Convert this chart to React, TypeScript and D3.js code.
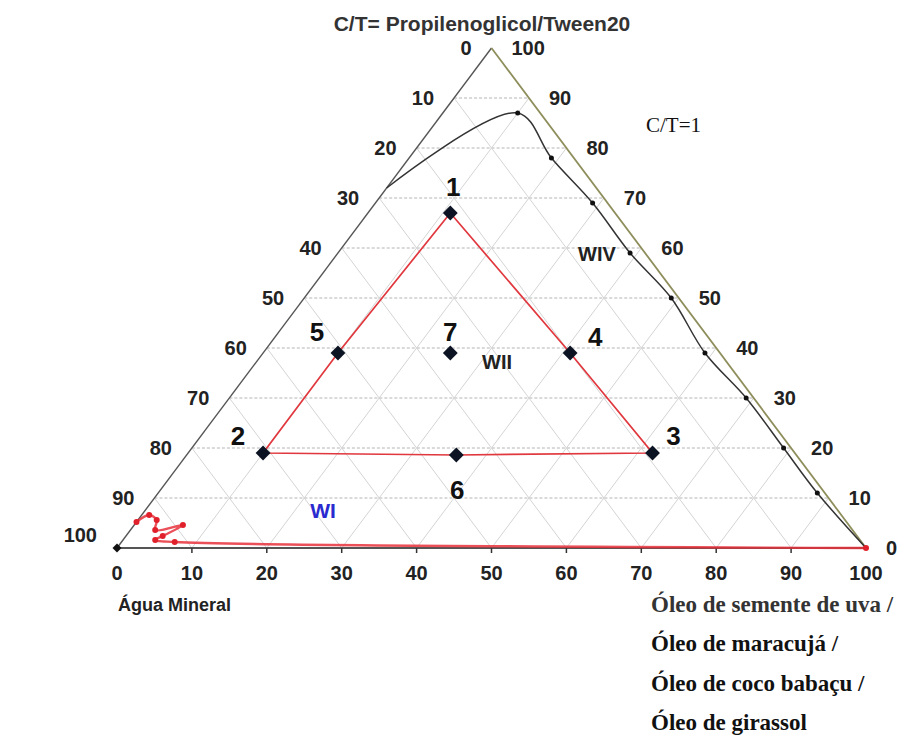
import React from 'react'
import * as d3 from 'd3'

// formulations (oil %, C/T %), water is the rest
const formLabels = ['1', '2', '3', '4', '5', '6', '7']
const formOil = [11, 10, 62, 41, 10, 36, 25]
const formCT = [67, 19, 19, 39, 39, 18.6, 39]
// order of the red outline through the formulations
const outlineOrder = [0, 3, 2, 5, 1, 4, 0]

// phase boundary of the C/T=1 titration (black curve)
const boundaryOil = [0, 10, 19, 29, 39, 49, 59, 69, 79, 88, 100]
const boundaryCT = [72, 87, 78, 69, 59, 50, 39, 30, 20, 11, 0]

// red curve near the water corner (WI region)
const wiOil = [0, 1, 2.5, 3.3, 6.5, 4.9, 4.3, 7.1, 100]
const wiCT = [5.2, 6.6, 5.6, 3.6, 4.6, 2.4, 1.6, 1.2, 0]

const tickValues = [0, 10, 20, 30, 40, 50, 60, 70, 80, 90, 100]
const gridSteps = [10, 20, 30, 40, 50, 60, 70, 80, 90]

const oilNames = [
  'Óleo de semente de uva /',
  'Óleo de maracujá /',
  'Óleo de coco babaçu /',
  'Óleo de girassol',
]

// label offsets for the numbered points (layout only)
const labelDx = [3, -25, 21, 25, -21, 1, 0]
const labelDy = [-26, -17, -17, -16, -21, 35, -21]

const sans = '"Liberation Sans", Arial, sans-serif'
const serif = '"Liberation Serif", "Times New Roman", serif'

export default function App() {
  const width = 916
  const height = 740

  const x = d3.scaleLinear().domain([0, 100]).range([117, 866])
  const y = d3.scaleLinear().domain([0, 100]).range([548, 48])

  // ternary projection: oil along the bottom, C/T up
  const proj = (oil: number, ct: number): [number, number] => [x(oil + ct / 2), y(ct)]

  const line = d3.line<[number, number]>()
  const smooth = d3.line<[number, number]>().curve(d3.curveCatmullRom.alpha(0.5))

  const A = proj(0, 0)
  const B = proj(100, 0)
  const C = proj(0, 100)

  const boundaryPts = boundaryOil.map((o, i) => proj(o, boundaryCT[i]))
  const wiPts = wiOil.map((o, i) => proj(o, wiCT[i]))
  const formPts = formOil.map((o, i) => proj(o, formCT[i]))
  const outline = outlineOrder.map(i => formPts[i])

  const diamond = d3.symbol(d3.symbolSquare, 110)()
  const smallDiamond = d3.symbol(d3.symbolSquare, 40)()

  const tickStyle = { fontFamily: sans, fontWeight: 700, fontSize: 20, fill: '#222' }

  return (
    <svg width={width} height={height} style={{ position: 'absolute', left: 0, top: 0, background: '#fff' }}>
      {/* grid */}
      <g>
        {gridSteps.map(k => (
          <line key={'h' + k}
            x1={proj(0, k)[0]} y1={proj(0, k)[1]}
            x2={proj(100 - k, k)[0]} y2={proj(100 - k, k)[1]}
            stroke="#b4b4b4" strokeWidth={1} strokeDasharray="3,2" />
        ))}
        {gridSteps.map(k => (
          <line key={'l' + k}
            x1={proj(k, 0)[0]} y1={proj(k, 0)[1]}
            x2={proj(k, 100 - k)[0]} y2={proj(k, 100 - k)[1]}
            stroke="#d4d4d4" strokeWidth={1} />
        ))}
        {gridSteps.map(k => (
          <line key={'r' + k}
            x1={proj(100 - k, 0)[0]} y1={proj(100 - k, 0)[1]}
            x2={proj(0, 100 - k)[0]} y2={proj(0, 100 - k)[1]}
            stroke="#d4d4d4" strokeWidth={1} />
        ))}
      </g>

      {/* triangle edges */}
      <line x1={A[0]} y1={A[1]} x2={C[0]} y2={C[1]} stroke="#555" strokeWidth={1.4} />
      <line x1={C[0]} y1={C[1]} x2={B[0]} y2={B[1]} stroke="#8e8e5c" strokeWidth={1.8} />
      <line x1={A[0]} y1={A[1]} x2={B[0]} y2={B[1]} stroke="#555" strokeWidth={1.8} />
      {gridSteps.map(k => (
        <line key={'t' + k} x1={x(k)} x2={x(k)} y1={y(0)} y2={y(0) + 5} stroke="#333" strokeWidth={1.5} />
      ))}

      {/* red outline of the formulations */}
      <path d={line(outline) || ''} fill="none" stroke="#e0383e" strokeWidth={1.7} />

      {/* phase boundary */}
      <path d={smooth(boundaryPts) || ''} fill="none" stroke="#333" strokeWidth={1.5} />
      {boundaryPts.slice(1, -1).map((p, i) => (
        <circle key={'b' + i} cx={p[0]} cy={p[1]} r={2.5} fill="#111" />
      ))}

      {/* WI red curve */}
      <path d={smooth(wiPts) || ''} fill="none" stroke="#e8303a" strokeWidth={2.4} opacity={0.85} />
      {wiPts.map((p, i) => (
        <circle key={'w' + i} cx={p[0]} cy={p[1]} r={3} fill="#e0202a" />
      ))}

      {/* markers */}
      <path d={smallDiamond} transform={`translate(${A[0]},${A[1]}) rotate(45)`} fill="#111" />
      {formPts.map((p, i) => (
        <path key={'f' + i} d={diamond} transform={`translate(${p[0]},${p[1]}) rotate(45)`} fill="#0c1424" />
      ))}
      {formPts.map((p, i) => (
        <text key={'fl' + i} x={p[0] + labelDx[i]} y={p[1] + labelDy[i]} dy="0.36em" textAnchor="middle"
          style={{ fontFamily: sans, fontWeight: 700, fontSize: 26, fill: '#111' }}>{formLabels[i]}</text>
      ))}

      {/* axis labels */}
      {tickValues.map(v => (
        <text key={'bx' + v} x={x(v)} y={y(0) + 25} dy="0.36em" textAnchor="middle" style={tickStyle}>{v}</text>
      ))}
      {tickValues.map(v => {
        const p = proj(0, 100 - v)
        return (
          <text key={'lx' + v} x={p[0] - 20} y={p[1] - (v === 100 ? 13 : 0)} dy="0.36em" textAnchor="end" style={tickStyle}>{v}</text>
        )
      })}
      {tickValues.map(v => {
        const p = proj(100 - v, v)
        return (
          <text key={'rx' + v} x={p[0] + 20} y={p[1]} dy="0.36em" textAnchor="start" style={tickStyle}>{v}</text>
        )
      })}

      {/* region labels */}
      <text x={597} y={261} textAnchor="middle" style={{ fontFamily: sans, fontWeight: 700, fontSize: 20, fill: '#222' }}>WIV</text>
      <text x={497} y={369} textAnchor="middle" style={{ fontFamily: sans, fontWeight: 700, fontSize: 20, fill: '#222' }}>WII</text>
      <text x={323} y={518} textAnchor="middle" style={{ fontFamily: sans, fontWeight: 700, fontSize: 21, fill: '#2a2ad0' }}>WI</text>
      <text x={646} y={132} style={{ fontFamily: serif, fontSize: 21, fill: '#111' }}>C/T=1</text>

      {/* titles */}
      <text x={482} y={31} textAnchor="middle" style={{ fontFamily: sans, fontWeight: 700, fontSize: 21, fill: '#333' }}>
        C/T= Propilenoglicol/Tween20
      </text>
      <text x={118} y={611} style={{ fontFamily: sans, fontWeight: 700, fontSize: 18, fill: '#222' }}>Água Mineral</text>
      {oilNames.map((n, i) => (
        <text key={'o' + i} x={651} y={612 + i * 39.3}
          style={{ fontFamily: serif, fontWeight: 700, fontSize: 23, fill: i === 0 ? '#333' : '#111' }}>{n}</text>
      ))}
    </svg>
  )
}
